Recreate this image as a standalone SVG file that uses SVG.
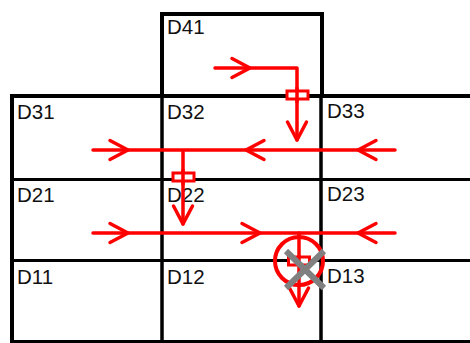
<svg xmlns="http://www.w3.org/2000/svg" xmlns:xlink="http://www.w3.org/1999/xlink" width="470" height="343" viewBox="0 0 470 343">
<style>
.cell{fill:none;stroke:#000;stroke-width:3}
.outer{fill:none;stroke:#000;stroke-width:4}
.lbl{font-family:"Liberation Sans",Arial,sans-serif;font-size:20.5px;fill:#111}
.flow{fill:none;stroke:#ff0000;stroke-width:3.5;stroke-linecap:round;stroke-linejoin:round}
.gate{fill:#fff;stroke:#ff0000;stroke-width:3}
.ring{fill:none;stroke:#ff0000;stroke-width:4}
.cross{stroke:#808080;stroke-width:6}
</style>
<defs>
<path id="chev" d="M-18,-9.5 L0,0 L-18,9.5" class="flow"/>
</defs>
<rect width="470" height="343" fill="#fff"/>
<g id="D41"><rect class="outer" x="162" y="14" width="160" height="82"/><text class="lbl" x="167" y="34">D41</text></g>
<g id="D31"><rect class="cell" x="12" y="96" width="150" height="83.5"/><text class="lbl" x="17" y="119">D31</text></g>
<g id="D32"><rect class="cell" x="162" y="96" width="159" height="83.5"/><text class="lbl" x="167" y="119">D32</text></g>
<g id="D33"><rect class="cell" x="321" y="96" width="155" height="83.5"/><text class="lbl" x="327" y="118">D33</text></g>
<g id="D21"><rect class="cell" x="12" y="179.5" width="150" height="81"/><text class="lbl" x="17" y="202">D21</text></g>
<g id="D22"><rect class="cell" x="162" y="179.5" width="159" height="81"/><text class="lbl" x="167" y="202">D22</text></g>
<g id="D23"><rect class="cell" x="321" y="179.5" width="155" height="81"/><text class="lbl" x="327" y="201">D23</text></g>
<g id="D11"><rect class="cell" x="12" y="260.5" width="150" height="81"/><text class="lbl" x="17" y="284">D11</text></g>
<g id="D12"><rect class="cell" x="162" y="260.5" width="159" height="81"/><text class="lbl" x="167" y="284">D12</text></g>
<g id="D13"><rect class="cell" x="321" y="260.5" width="155" height="81"/><text class="lbl" x="327" y="283">D13</text></g>
<g id="frame">
<path class="outer" d="M12,96 H470 M12,94 V343"/>
</g>
<g id="connectors">
<path class="flow" d="M215,68 H297 V140"/>
<use xlink:href="#chev" transform="translate(250,68)"/>
<use xlink:href="#chev" transform="translate(297,140) rotate(90)"/>
<rect class="gate" x="287" y="91" width="21" height="8"/>
<line x1="297" y1="88" x2="297" y2="102" class="flow"/>

<path class="flow" d="M93,150 H395 M183,150 V224"/>
<use xlink:href="#chev" transform="translate(128,150)"/>
<use xlink:href="#chev" transform="translate(246,150) rotate(180)"/>
<use xlink:href="#chev" transform="translate(358,150) rotate(180)"/>
<use xlink:href="#chev" transform="translate(183,224) rotate(90)"/>
<rect class="gate" x="173" y="173" width="21" height="8"/>
<line x1="183" y1="170" x2="183" y2="184" class="flow"/>

<path class="flow" d="M93,233 H395"/>
<use xlink:href="#chev" transform="translate(128,233)"/>
<use xlink:href="#chev" transform="translate(260,233)"/>
<use xlink:href="#chev" transform="translate(358,233) rotate(180)"/>
<circle class="ring" cx="299" cy="261" r="24"/>
<rect class="gate" x="288.5" y="257" width="21" height="8"/>
<path class="flow" d="M299,233 V306"/>
<use xlink:href="#chev" transform="translate(299,306) rotate(90)"/>
</g>
<g id="blocked">
<path class="cross" d="M286,251 L324,288 M324,251 L286,288"/>
</g>
</svg>
